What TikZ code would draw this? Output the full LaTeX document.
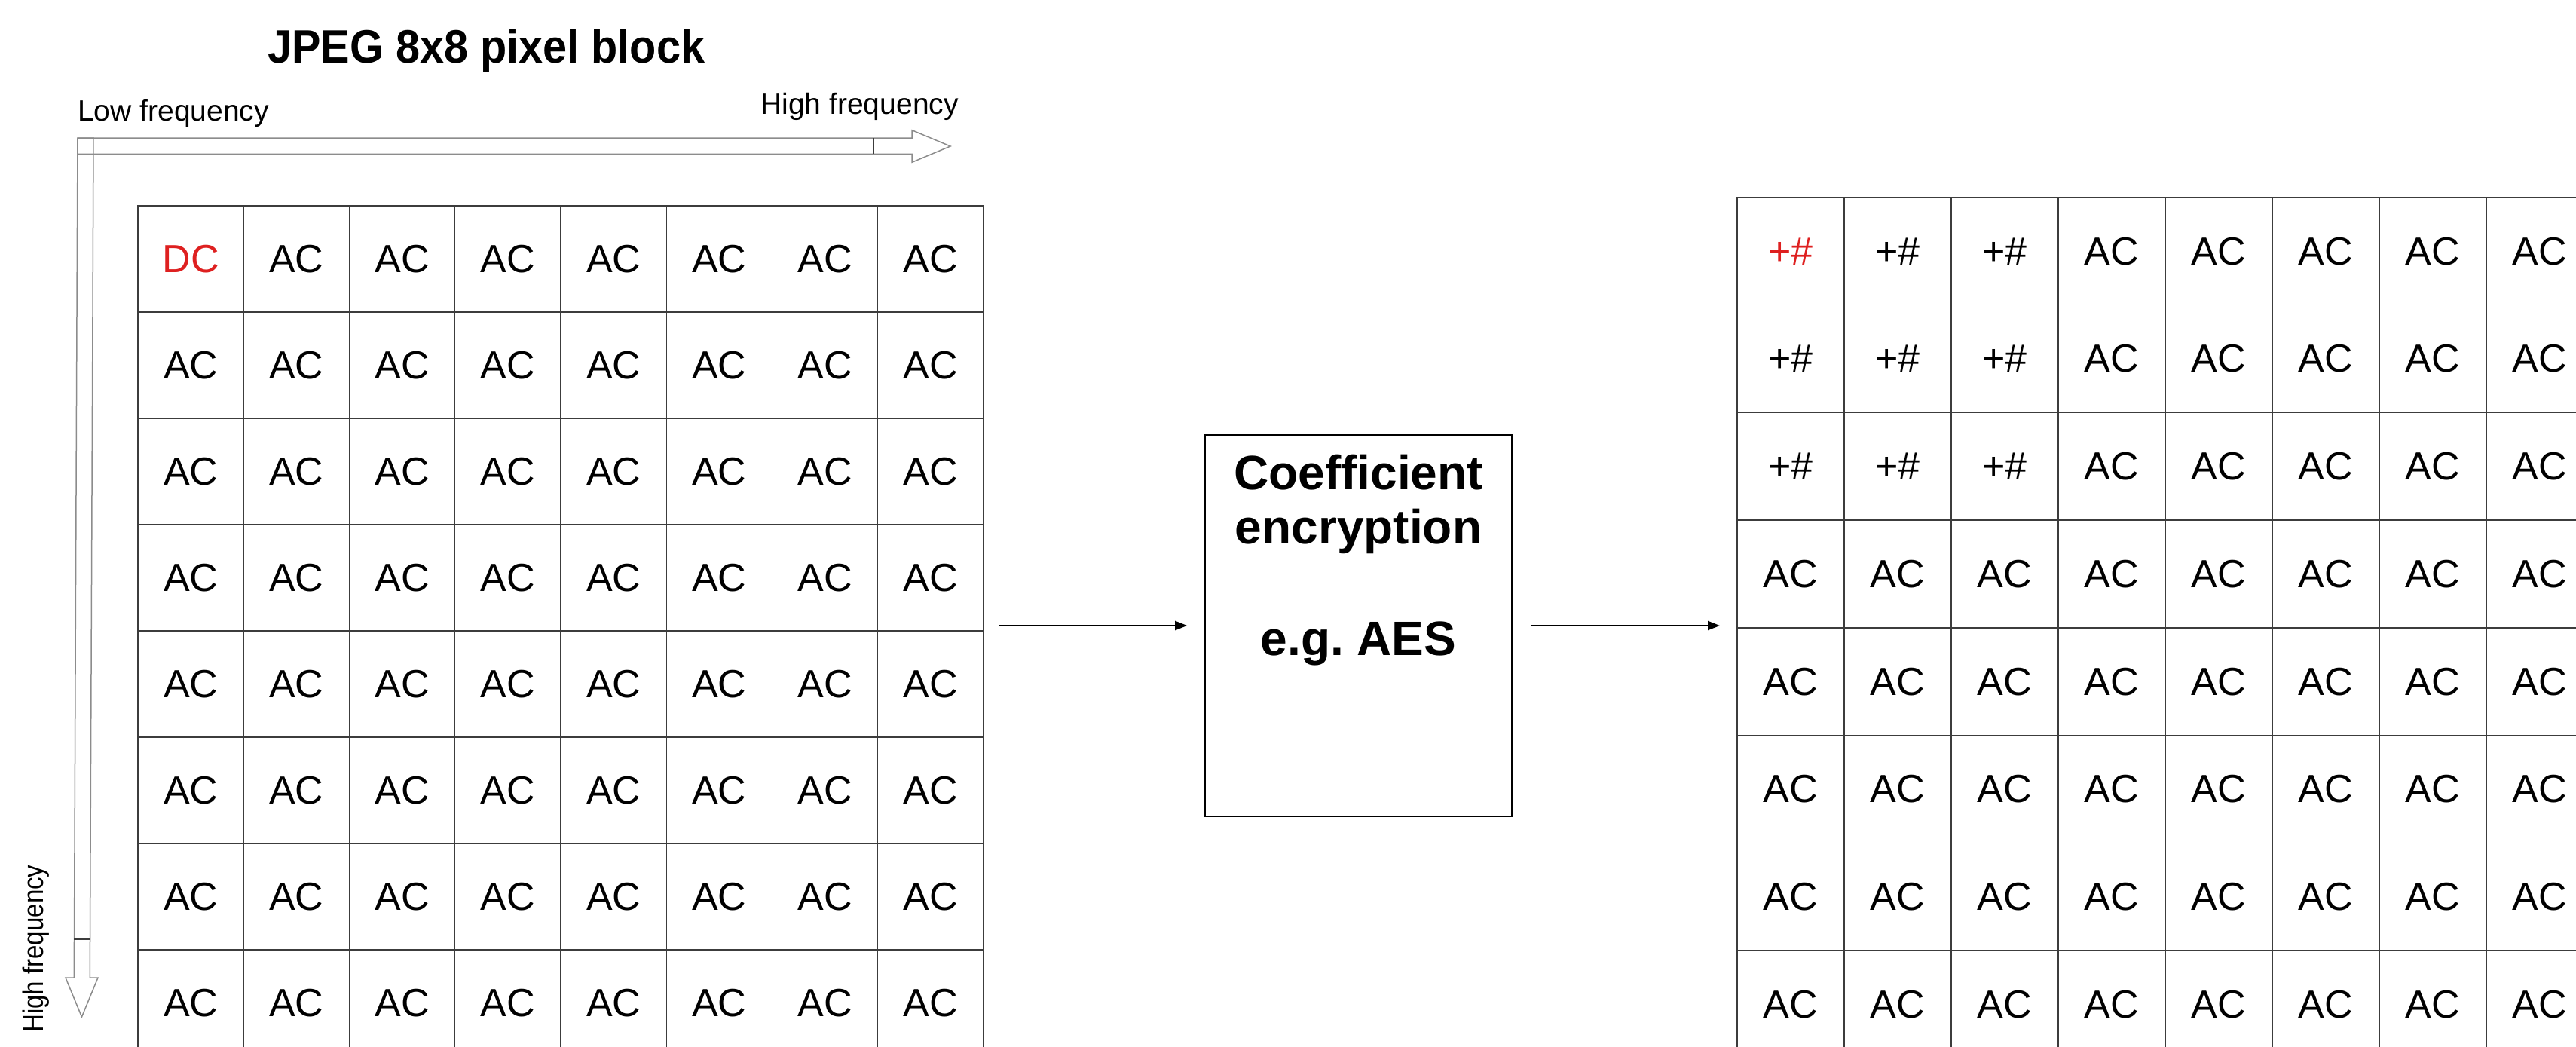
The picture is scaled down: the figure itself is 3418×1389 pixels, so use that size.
\documentclass[tikz,border=0pt]{standalone}
\usepackage{fontspec}
\usepackage{graphicx}
\setmainfont{Liberation Sans}
\usetikzlibrary{arrows.meta}
\definecolor{gridline}{RGB}{60,60,60}
\definecolor{axisline}{RGB}{140,140,140}
\definecolor{dcred}{RGB}{222,32,32}
\frenchspacing

\begin{document}
\begin{tikzpicture}[x=1pt,y=-1pt,
  lcell/.style={draw=gridline, line width=1.4pt, minimum width=140.25pt,
    minimum height=141pt, inner sep=0pt, font=\fontsize{52}{52}\selectfont},
  rcell/.style={draw=gridline, line width=1.4pt, minimum width=142pt,
    minimum height=142.7pt, inner sep=0pt, font=\fontsize{52}{52}\selectfont},
  axis/.style={draw=axisline, line width=1.5pt, line join=miter},
  axistick/.style={draw=gridline, line width=1.3pt},
  freqlabel/.style={font=\fontsize{39}{39}\selectfont, inner sep=0pt},
  boxlabel/.style={font=\bfseries\fontsize{64}{64}\selectfont, inner sep=0pt, anchor=base},
  flow/.style={line width=2.2pt, -{Triangle[length=16pt,width=12pt]}}]

\useasboundingbox (0,0) rectangle (3418,1389);
\clip (0,0) rectangle (3418,1389);

% heading
\node[anchor=base west, inner sep=0pt, font=\bfseries\fontsize{62}{62}\selectfont]
  (title) at (355,84) {\scalebox{0.93}[1]{JPEG 8x8 pixel block}};

% frequency axes
\draw[axis] (103,183) -- (1210,183) -- (1210,172.7) -- (1261,194)
  -- (1210,215.3) -- (1210,204.3) -- (103,204.3) -- cycle;
\draw[axis] (103,183) -- (124,183) -- (119.3,1297) -- (130,1297)
  -- (108.5,1349) -- (87,1297) -- (98.3,1297) -- cycle;
\draw[axistick] (1159,183) -- (1159,204.3);
\draw[axistick] (98.2,1246) -- (119.2,1246);

\node[freqlabel, anchor=base west] (lowf) at (103,160) {Low frequency};
\node[freqlabel, anchor=base east] (highh) at (1272,151) {High frequency};
\node[freqlabel, font=\fontsize{38}{38}\selectfont, rotate=90, anchor=base west]
  (highv) at (57,1370) {\scalebox{0.87}[1]{High frequency}};

% original coefficient block
\foreach \r in {0,...,7}
  \foreach \c in {0,...,7}
    \node[lcell] (L-\r-\c) at ({183+140.25*(\c+0.5)},{273+141*(\r+0.5)})
      {\ifnum\numexpr\r+\c\relax=0 \textcolor{dcred}{DC}\else AC\fi};

% encrypted coefficient block
\foreach \r in {0,...,7}
  \foreach \c in {0,...,7}
    \node[rcell] (R-\r-\c) at ({2305+142*(\c+0.5)},{262+142.7*(\r+0.5)})
      {\ifnum\r<3 \ifnum\c<3 \ifnum\numexpr\r+\c\relax=0 \textcolor{dcred}{+\#}\else +\#\fi\else AC\fi\else AC\fi};

% encryption stage
\node[draw, line width=1.6pt, minimum width=407pt, minimum height=506pt, inner sep=0pt]
  (box) at (1802.5,830) {};
\node[boxlabel] (b1) at (1802.5,649) {Coefficient};
\node[boxlabel] (b2) at (1802.5,721) {encryption};
\node[boxlabel] (b3) at (1802.5,869) {e.g. AES};

% data flow
\coordinate (a1s) at (1325,830);
\coordinate (a2e) at (2282,830);
\draw[flow] (a1s) -- ([xshift=-23pt]a1s -| box.west);
\draw[flow] ([xshift=24pt]a1s -| box.east) -- (a2e);
\end{tikzpicture}
\end{document}
